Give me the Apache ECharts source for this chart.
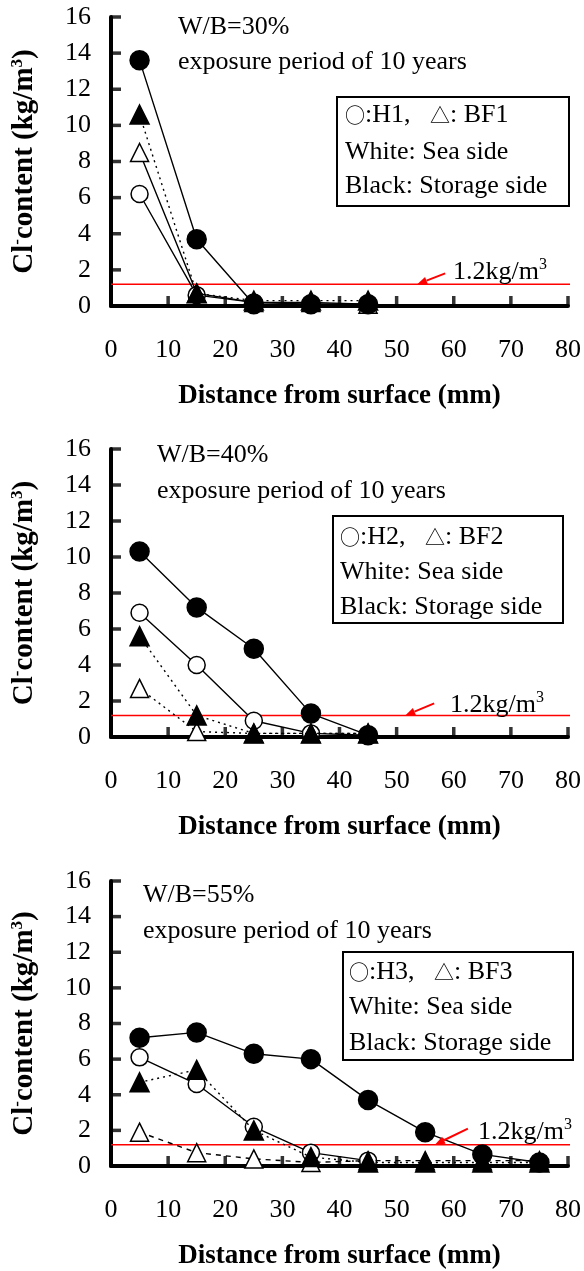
<!DOCTYPE html>
<html>
<head>
<meta charset="utf-8">
<script src="https://cdn.jsdelivr.net/npm/echarts@6/dist/echarts.min.js"></script>
<style>
  html, body { margin: 0; padding: 0; background: #fff; }
  #chart { width: 584px; height: 1271px; }
</style>
</head>
<body>
<div id="chart"></div>
<script>
// Chloride content profiles after 10 years of exposure, three W/B ratios
const distances = [5, 15, 25, 35, 45, 55, 65, 75];
const yTicks = [0, 2, 4, 6, 8, 10, 12, 14, 16];
const xTicks = [0, 10, 20, 30, 40, 50, 60, 70, 80];
const threshold = 1.2;

// W/B = 30%
const wb30_H1_sea      = [6.2, 0.6, 0.2, 0.1, 0.1];
const wb30_BF1_sea     = [8.5, 0.7, 0.2, 0.2, 0.1];
const wb30_H1_storage  = [13.6, 3.7, 0.1, 0.1, 0.1];
const wb30_BF1_storage = [10.6, 0.7, 0.3, 0.3, 0.3];

// W/B = 40%
const wb40_H2_sea      = [6.9, 4.0, 0.9, 0.2, 0.1];
const wb40_BF2_sea     = [2.7, 0.3, 0.2, 0.2, 0.2];
const wb40_H2_storage  = [10.3, 7.2, 4.9, 1.3, 0.1];
const wb40_BF2_storage = [5.6, 1.2, 0.2, 0.2, 0.2];

// W/B = 55%
const wb55_H3_sea      = [6.1, 4.6, 2.2, 0.75, 0.3];
const wb55_BF3_sea     = [1.9, 0.75, 0.4, 0.2, 0.3, 0.3, 0.3, 0.3];
const wb55_H3_storage  = [7.2, 7.5, 6.3, 6.0, 3.7, 1.9, 0.65, 0.2];
const wb55_BF3_storage = [4.7, 5.4, 2.0, 0.5, 0.2, 0.2, 0.2, 0.2];

const panelTitles = ['W/B=30%', 'W/B=40%', 'W/B=55%'];
const periodText = 'exposure period of 10 years';
const mixNames = [['H1', 'BF1'], ['H2', 'BF2'], ['H3', 'BF3']];
const sideLines = ['White: Sea side', 'Black: Storage side'];

const SERIF = '"Liberation Serif", "Times New Roman", serif';
const SYM = '"Noto Sans CJK JP", "DejaVu Sans", sans-serif';
const FS = 26;
const TICK_LEN = 10;
const TICK_W = 3.5;
const AXIS_W = 4;
const TICK_COLOR = '#000';

const panels = [
  { top: 17,  height: 289, data: [wb30_H1_sea, wb30_BF1_sea, wb30_H1_storage, wb30_BF1_storage],
    dash: ['solid', 'solid', 'solid', [2, 4]] },
  { top: 449, height: 288, data: [wb40_H2_sea, wb40_BF2_sea, wb40_H2_storage, wb40_BF2_storage],
    dash: ['solid', [2, 4], 'solid', [2, 4]] },
  { top: 881, height: 289, data: [wb55_H3_sea, wb55_BF3_sea, wb55_H3_storage, wb55_BF3_storage],
    dash: ['solid', [5, 5], 'solid', [2, 4]] }
];

const pairs = (vals) => vals.map((v, i) => [distances[i], v]);

const grids = [], xAxes = [], yAxes = [], series = [];

panels.forEach((p, gi) => {
  grids.push({ left: 111, right: 12, top: p.top, height: p.height });
  xAxes.push({
    type: 'value', gridIndex: gi, min: xTicks[0], max: xTicks[xTicks.length - 1], interval: 10,
    axisLine: { show: true, lineStyle: { color: '#000', width: AXIS_W } },
    axisTick: { show: false },
    axisLabel: { color: '#000', fontFamily: SERIF, fontSize: FS, margin: 31 },
    splitLine: { show: false },
    name: 'Distance from surface (mm)', nameLocation: 'middle', nameGap: 77,
    nameTextStyle: { color: '#000', fontFamily: SERIF, fontSize: 27, fontWeight: 'bold' }
  });
  yAxes.push({
    type: 'value', gridIndex: gi, min: yTicks[0], max: yTicks[yTicks.length - 1], interval: 2,
    axisLine: { show: true, lineStyle: { color: '#000', width: AXIS_W } },
    axisTick: { show: false },
    axisLabel: { color: '#000', fontFamily: SERIF, fontSize: FS, margin: 20 },
    splitLine: { show: false },
    name: '{b|Cl}{s|-}{b|content (kg/m}{s|3}{b|)}', nameLocation: 'middle', nameGap: 70,
    nameTextStyle: {
      color: '#000',
      rich: {
        b: { fontFamily: SERIF, fontSize: 29, fontWeight: 'bold', color: '#000', lineHeight: 32 },
        s: { fontFamily: SERIF, fontSize: 17, fontWeight: 'bold', color: '#000', verticalAlign: 'top', lineHeight: 32 }
      }
    }
  });

  // inward tick marks on the x axis
  series.push({
    type: 'scatter', xAxisIndex: gi, yAxisIndex: gi, silent: true, clip: false, z: 6,
    data: xTicks.map((v) => [v, yTicks[0]]),
    symbol: 'rect', symbolSize: [TICK_W, TICK_LEN], symbolOffset: [0, -TICK_LEN / 2],
    itemStyle: { color: TICK_COLOR }
  });
  // inward tick marks on the y axis
  series.push({
    type: 'scatter', xAxisIndex: gi, yAxisIndex: gi, silent: true, clip: false, z: 6,
    data: yTicks.map((v) => [xTicks[0], v]),
    symbol: 'rect', symbolSize: [TICK_LEN, TICK_W], symbolOffset: [TICK_LEN / 2, 0],
    itemStyle: { color: TICK_COLOR }
  });

  // 1.2 kg/m3 threshold line
  series.push({
    type: 'line', xAxisIndex: gi, yAxisIndex: gi, clip: false, silent: true,
    data: [[0, threshold], [82.2, threshold]], symbol: 'none',
    lineStyle: { color: '#ff0000', width: 1.5 }, z: 1
  });

  const styles = [
    { symbol: 'circle', size: 17, fill: '#fff' },
    { symbol: 'triangle', size: 18, fill: '#fff' },
    { symbol: 'circle', size: 19, fill: '#000' },
    { symbol: 'triangle', size: 19, fill: '#000' }
  ];
  p.data.forEach((vals, si) => {
    const st = styles[si];
    series.push({
      type: 'line', xAxisIndex: gi, yAxisIndex: gi, clip: false,
      data: pairs(vals),
      symbol: st.symbol, symbolSize: st.size,
      itemStyle: { color: st.fill, borderColor: '#000', borderWidth: 1.5 },
      lineStyle: { color: '#000', width: 1.4, type: p.dash[si] },
      z: 7 + si
    });
  });
});

const chart = echarts.init(document.getElementById('chart'), null, { renderer: 'canvas' });
chart.setOption({
  backgroundColor: '#fff',
  animation: false,
  grid: grids, xAxis: xAxes, yAxis: yAxes, series: series
});

// Annotations: panel captions, legend boxes, threshold labels with arrows
const textLeft = [178, 157, 143];
const titleY = [27, 455, 895];
const periodY = [62, 491, 931];
const boxes = [
  { x: 337, y: 97,  w: 232, h: 109, tx: 345, ly: [115, 152, 186] },
  { x: 333, y: 516, w: 230, h: 107, tx: 340, ly: [537, 572, 607] },
  { x: 343, y: 952, w: 230, h: 108, tx: 349, ly: [972, 1007, 1043] }
];
const arrowTipX = [53.6, 51.5, 56.7];
const arrowVec = [[28, -11], [29, -12], [33, -16]];
const labelPos = [[453, 272], [450, 705], [478, 1132]];

const graphics = [];
panels.forEach((p, gi) => {
  const txt = (t, x, y) => ({
    type: 'text', x: x, y: y, z: 10,
    style: { text: t, fill: '#000', font: FS + 'px ' + SERIF, align: 'left', verticalAlign: 'middle' }
  });
  graphics.push(txt(panelTitles[gi], textLeft[gi], titleY[gi]));
  graphics.push(txt(periodText, textLeft[gi], periodY[gi]));
  const b = boxes[gi];
  graphics.push({
    type: 'rect', z: 9, shape: { x: b.x, y: b.y, width: b.w, height: b.h },
    style: { fill: '#fff', stroke: '#000', lineWidth: 2 }
  });
  // first legend line: open circle / open triangle key
  graphics.push({
    type: 'text', x: b.tx, y: b.ly[0], z: 10,
    style: {
      text: '{g|\u25CB}{t|:' + mixNames[gi][0] + ',   }{g|\u25B3}{t|: ' + mixNames[gi][1] + '}',
      align: 'left', verticalAlign: 'middle',
      rich: {
        g: { fontFamily: SYM, fontSize: 20, fill: '#000', lineHeight: 30 },
        t: { fontFamily: SERIF, fontSize: FS, fill: '#000', lineHeight: 30 }
      }
    }
  });
  sideLines.forEach((line, li) => graphics.push(txt(line, b.tx, b.ly[li + 1])));

  const tip = chart.convertToPixel({ gridIndex: gi }, [arrowTipX[gi], threshold]);
  const v = arrowVec[gi];
  const tail = [tip[0] + v[0], tip[1] + v[1]];
  const len = Math.hypot(v[0], v[1]);
  const ux = v[0] / len, uy = v[1] / len;
  const headL = 10, headW = 4;
  const base = [tip[0] + ux * headL, tip[1] + uy * headL];
  graphics.push({
    type: 'line', z: 10,
    shape: { x1: base[0], y1: base[1], x2: tail[0], y2: tail[1] },
    style: { stroke: '#ff0000', lineWidth: 2 }
  });
  graphics.push({
    type: 'polygon', z: 10,
    shape: { points: [tip, [base[0] - uy * headW, base[1] + ux * headW], [base[0] + uy * headW, base[1] - ux * headW]] },
    style: { fill: '#ff0000' }
  });
  graphics.push({
    type: 'text', x: labelPos[gi][0], y: labelPos[gi][1], z: 10,
    style: {
      text: '{a|1.2kg/m}{s|3}', align: 'left', verticalAlign: 'middle',
      rich: {
        a: { fontFamily: SERIF, fontSize: FS, fill: '#000', lineHeight: 30 },
        s: { fontFamily: SERIF, fontSize: 16, fill: '#000', verticalAlign: 'top', lineHeight: 30 }
      }
    }
  });
});
chart.setOption({ graphic: graphics });
</script>
</body>
</html>
